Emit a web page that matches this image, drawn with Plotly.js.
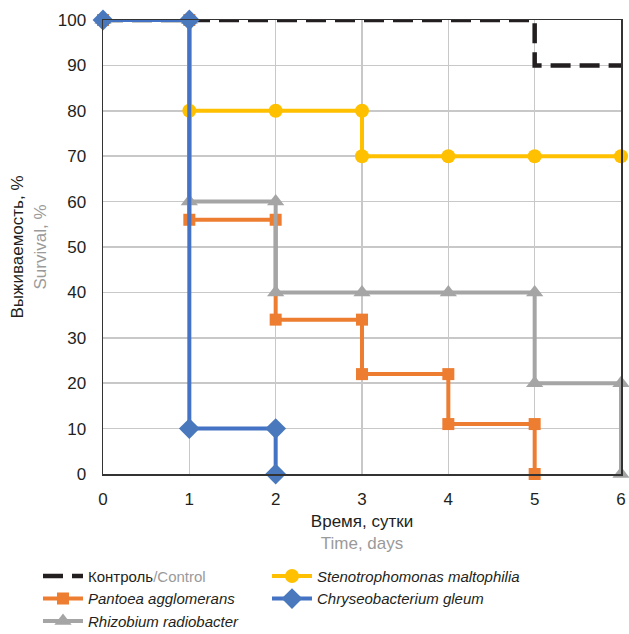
<!DOCTYPE html>
<html>
<head>
<meta charset="utf-8">
<script src="https://cdn.plot.ly/plotly-3.0.1.min.js"></script>
<style>html,body{margin:0;padding:0;background:#fff}#chart{width:629px;height:634px}</style>
</head>
<body>
<div id="chart"></div>
<script>
// Data (survival, %, by day)
const controlX = [0, 1, 2, 3, 4, 5, 5, 6];
const controlY = [100, 100, 100, 100, 100, 100, 90, 90];
const pantoeaX = [0, 1, 1, 2, 2, 3, 3, 4, 4, 5, 5];
const pantoeaY = [100, 100, 56, 56, 34, 34, 22, 22, 11, 11, 0];
const rhizobiumX = [0, 1, 1, 2, 2, 3, 4, 5, 5, 6, 6];
const rhizobiumY = [100, 100, 60, 60, 40, 40, 40, 40, 20, 20, 0];
const stenoX = [0, 1, 1, 2, 3, 3, 4, 5, 6];
const stenoY = [100, 100, 80, 80, 80, 70, 70, 70, 70];
const chryseoX = [0, 1, 1, 2, 2];
const chryseoY = [100, 100, 10, 10, 0];

const names = {
  control: 'Контроль<span style="color:#9a9a9a">/Control</span>',
  pantoea: '<i>Pantoea agglomerans</i>',
  rhizobium: '<i>Rhizobium radiobacter</i>',
  steno: '<i>Stenotrophomonas maltophilia</i>',
  chryseo: '<i>Chryseobacterium gleum</i>'
};

const traces = [
  {x: controlX, y: controlY, name: names.control, mode: 'lines', legend: 'legend', legendrank: 1,
   line: {color: '#231f20', width: 4.5, dash: '20px,9px'}},
  {x: pantoeaX, y: pantoeaY, name: names.pantoea, mode: 'lines+markers', legend: 'legend', legendrank: 2,
   line: {color: '#ed7d31', width: 4}, marker: {symbol: 'square', size: 12, color: '#ed7d31'}},
  {x: rhizobiumX, y: rhizobiumY, name: names.rhizobium, mode: 'lines+markers', legend: 'legend', legendrank: 3,
   line: {color: '#a5a5a5', width: 4}, marker: {symbol: 'triangle-up', size: 15, color: '#a5a5a5'}},
  {x: stenoX, y: stenoY, name: names.steno, mode: 'lines+markers', legend: 'legend2', legendrank: 1,
   line: {color: '#ffc000', width: 4}, marker: {symbol: 'circle', size: 14, color: '#ffc000'}},
  {x: chryseoX, y: chryseoY, name: names.chryseo, mode: 'lines+markers', legend: 'legend2', legendrank: 2,
   line: {color: '#4472c4', width: 4}, marker: {symbol: 'diamond', size: 16, color: '#4a78bd'}}
];
traces.forEach(t => { t.cliponaxis = false; });

const font = {family: '"Liberation Sans", Arial, sans-serif', size: 17, color: '#231f20'};
const legendFont = {family: '"Liberation Sans", Arial, sans-serif', size: 15, color: '#231f20'};

const legendBase = {
  orientation: 'v', xref: 'paper', xanchor: 'left',
  yref: 'container', y: 0.117, yanchor: 'top',
  font: legendFont, itemwidth: 40, traceorder: 'normal', bgcolor: 'rgba(0,0,0,0)'
};

const layout = {
  width: 629, height: 634,
  margin: {l: 103, r: 8, t: 20, b: 160},
  paper_bgcolor: '#fff', plot_bgcolor: '#fff',
  font: font,
  showlegend: true,
  xaxis: {
    range: [0, 6], dtick: 1, tick0: 0, showgrid: true, gridcolor: '#c8c8c8', gridwidth: 1.5,
    zeroline: false, showline: true, linecolor: '#333', linewidth: 1.5, mirror: true,
    ticks: '', tickfont: font, ticklabelstandoff: 9, automargin: false,
    title: {text: 'Время, сутки<br><span style="color:#9a9a9a">Time, days</span>', font: font, standoff: 7}
  },
  yaxis: {
    range: [0, 100], dtick: 10, tick0: 0, showgrid: true, gridcolor: '#c8c8c8', gridwidth: 1.5,
    zeroline: false, showline: true, linecolor: '#333', linewidth: 1.5, mirror: true,
    ticks: '', tickfont: font, ticklabelstandoff: 12, automargin: false,
    title: {text: 'Выживаемость, %<br><span style="color:#9a9a9a">Survival, %</span>', font: font, standoff: 7}
  },
  legend: Object.assign({}, legendBase, {x: -0.1255}),
  legend2: Object.assign({}, legendBase, {x: 0.3166})
};

Plotly.newPlot('chart', traces, layout, {displayModeBar: false, staticPlot: true});
</script>
</body>
</html>
